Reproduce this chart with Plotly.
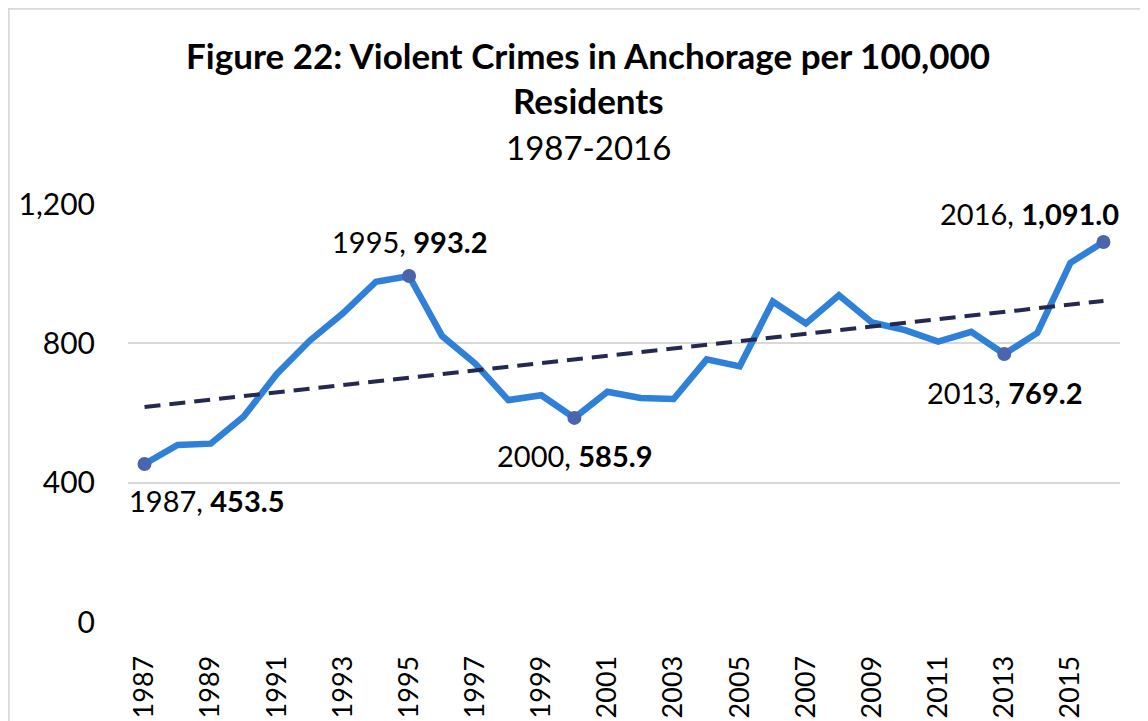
import numpy as np
import plotly.graph_objects as go

anios = list(range(1987, 2017))
tasa = [453.5, 508, 512, 590, 712, 808, 886, 977, 993.2, 821,
        742, 637, 651, 585.9, 661, 643, 640, 754, 734, 920,
        857, 938, 860, 838, 805, 833, 769.2, 830, 1031, 1091.0]

anios_marcados = [1987, 1995, 2000, 2013, 2016]
ticks_x = list(range(1987, 2016, 2))

# tendencia lineal (como la linea de tendencia de Excel)
pendiente, corte = np.polyfit(np.arange(len(anios)), tasa, 1)
tendencia = [corte + pendiente * i for i in range(len(anios))]

marcados = [tasa[anios.index(a)] for a in anios_marcados]

FUENTE = "Lato, 'Open Sans', sans-serif"

fig = go.Figure()

fig.add_trace(go.Scatter(
    x=anios, y=tasa, mode="lines",
    line=dict(color="#2e80d9", width=6.5),
    hoverinfo="x+y"
))
fig.add_trace(go.Scatter(
    x=anios, y=tendencia, mode="lines",
    line=dict(color="#252850", width=4, dash="16px,9px"),
    hoverinfo="skip"
))
fig.add_trace(go.Scatter(
    x=anios_marcados, y=marcados, mode="markers",
    marker=dict(color="#4a65ad", size=14),
    hoverinfo="x+y"
))

# etiquetas de datos
posiciones = {
    1987: dict(xanchor="left", xshift=-18, yshift=-36),
    1995: dict(xanchor="center", xshift=0, yshift=35),
    2000: dict(xanchor="center", xshift=0, yshift=-38),
    2013: dict(xanchor="center", xshift=0, yshift=-38),
    2016: dict(xanchor="right", xshift=18, yshift=28),
}
for a, v in zip(anios_marcados, marcados):
    p = posiciones[a]
    fig.add_annotation(
        x=a, y=v, text=f"{a}, <b>{v:,.1f}</b>",
        showarrow=False, yanchor="middle",
        font=dict(size=29, color="#000000", family=FUENTE),
        **p
    )

# titulo
cx = (580 - 120) / 992
fig.add_annotation(xref="paper", yref="paper", x=cx, y=1, yshift=149, yanchor="middle",
                   text="<b>Figure 22: Violent Crimes in Anchorage per 100,000</b>",
                   showarrow=False, font=dict(size=35, color="#000000", family=FUENTE))
fig.add_annotation(xref="paper", yref="paper", x=cx, y=1, yshift=104, yanchor="middle",
                   text="<b>Residents</b>",
                   showarrow=False, font=dict(size=35, color="#000000", family=FUENTE))
fig.add_annotation(xref="paper", yref="paper", x=cx, y=1, yshift=57, yanchor="middle",
                   text="1987-2016",
                   showarrow=False, font=dict(size=33, color="#000000", family=FUENTE))

# borde del grafico
fig.add_shape(type="rect", xref="paper", yref="paper",
              x0=-120 / 992, x1=1.2, y0=-0.5, y1=1 + 196 / 418,
              line=dict(color="#d9d9d9", width=3.5), layer="below")

fig.update_layout(
    width=1148, height=721,
    margin=dict(l=120, r=36, t=196, b=107),
    paper_bgcolor="white", plot_bgcolor="white",
    showlegend=False,
    font=dict(family=FUENTE, color="#000000"),
)
fig.update_xaxes(
    range=[1986.5, 2016.5], tickvals=ticks_x, tickangle=-90,
    showgrid=False, zeroline=False, showline=False,
    ticks="outside", ticklen=22, tickcolor="rgba(0,0,0,0)",
    tickfont=dict(size=27, family=FUENTE, color="#000000"),
)
fig.update_yaxes(
    range=[0, 1200], tickvals=[0, 400, 800, 1200], tickformat=",",
    showgrid=True, gridcolor="#d9d9d9", gridwidth=2, zeroline=False,
    showline=False,
    ticks="outside", ticklen=26, tickcolor="rgba(0,0,0,0)",
    tickfont=dict(size=30, family=FUENTE, color="#000000"),
)

fig.write_html("out.html")
